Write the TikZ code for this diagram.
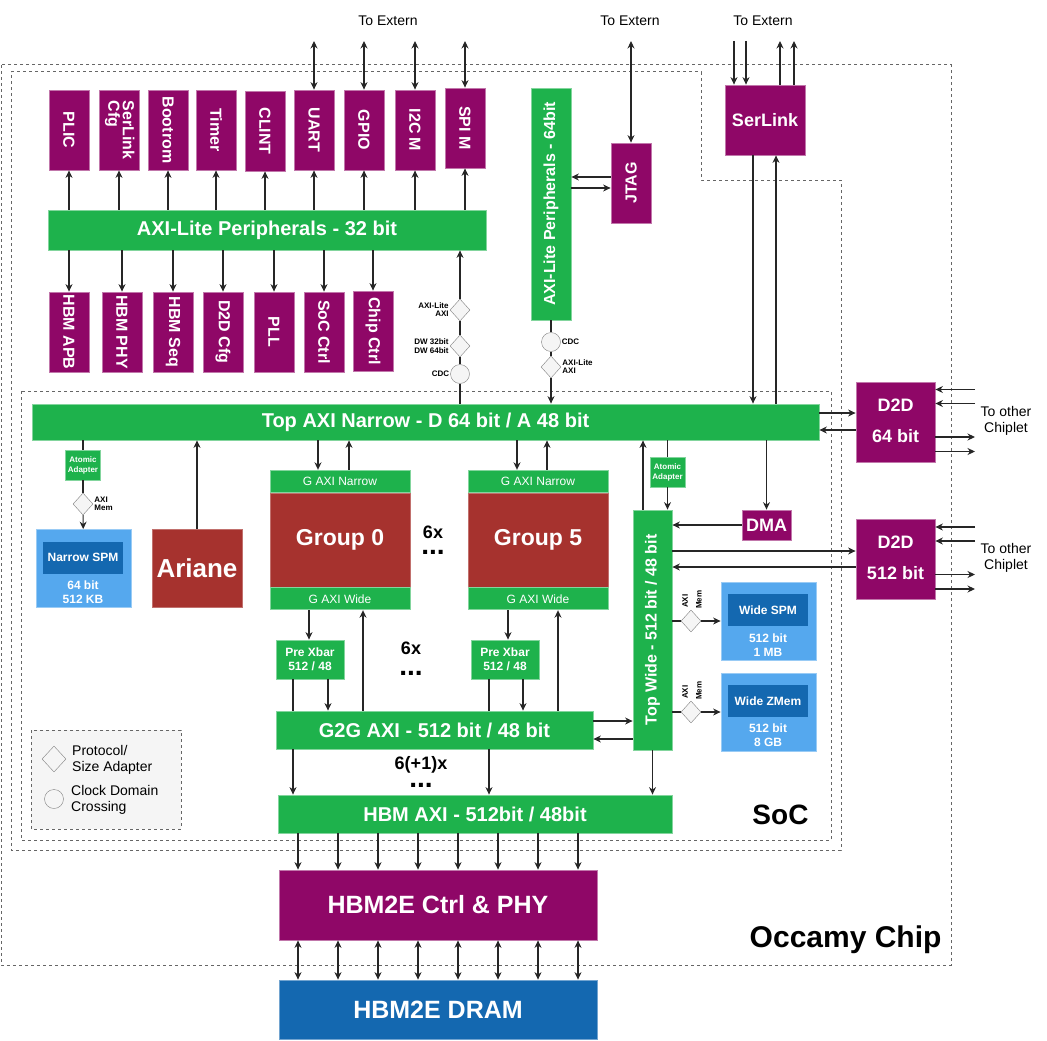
\documentclass[tikz,border=0pt]{standalone}
\usepackage{fontspec}
\setmainfont{Liberation Sans}
\usetikzlibrary{arrows.meta,positioning,shapes.geometric}

\definecolor{purp}{HTML}{8F0767}
\definecolor{grn}{HTML}{1EB24C}
\definecolor{brick}{HTML}{A6322E}
\definecolor{lblue}{HTML}{55A8EE}
\definecolor{dblue}{HTML}{1468B0}
\definecolor{adapt}{HTML}{F5F5F5}

\newcommand{\fsz}[1]{\fontsize{#1}{#1}\selectfont}
\newcommand{\rotup}[1]{\rotatebox{90}{#1}}
\newcommand{\rotdown}[1]{\rotatebox{-90}{#1}}

\begin{document}
\begin{tikzpicture}[x=1pt, y=-1pt,
    >={Stealth[length=7.5pt,width=7pt]},
    blk/.style={rectangle, inner sep=0pt, text=white, line width=0.8pt, font=\bfseries\fsz{16}},
    purpblk/.style={blk, fill=purp, draw=purp!55},
    grnblk/.style={blk, fill=grn, draw=grn!55},
    redblk/.style={blk, fill=brick, draw=brick!70},
    perip/.style={purpblk, minimum width=40pt, minimum height=80pt},
    bus/.style={grnblk, font=\bfseries\fsz{20}},
    gport/.style={grnblk, minimum width=140pt, minimum height=22pt, font=\fsz{12}},
    prexbar/.style={grnblk, minimum width=68pt, minimum height=39pt, align=center, font=\bfseries\fontsize{12}{14}\selectfont},
    atomic/.style={grnblk, minimum width=35pt, minimum height=30pt, align=center, font=\bfseries\fontsize{8}{10}\selectfont},
    d2d/.style={purpblk, minimum width=79pt, minimum height=80pt, align=center, font=\bfseries\fontsize{18}{31}\selectfont},
    mem/.style={blk, fill=lblue, draw=lblue!60, minimum width=95pt, minimum height=78pt},
    memin/.style={blk, fill=dblue, minimum width=80pt, minimum height=32pt, font=\bfseries\fsz{12}},
    memtxt/.style={text=white, align=center, inner sep=0pt, font=\bfseries\fontsize{12}{14}\selectfont},
    adapter/.style={diamond, draw=black!50, fill=adapt, inner sep=0pt, minimum width=20pt, minimum height=22pt},
    cdc/.style={circle, draw=black!50, fill=adapt, inner sep=0pt, minimum size=19pt},
    smlbl/.style={text=black, inner sep=1pt, font=\bfseries\fsz{8}},
    lbl/.style={align=center, inner sep=0pt, font=\fontsize{14}{16}\selectfont},
    cnt/.style={inner sep=0pt, font=\bfseries\fsz{18}},
    dotrow/.style={inner sep=0pt, font=\bfseries\fsz{28}},
    wire/.style={line width=1.1pt, draw=black!85},
    dashbox/.style={draw=black!60, line width=1pt, dash pattern=on 3pt off 3pt}]

\useasboundingbox (0,0) rectangle (1047,1041);

% chip / soc outlines
\draw[dashbox] (1,65) rectangle (951,965);
\draw[dashbox] (11,72) -- (701,72) -- (701,180) -- (841,180) -- (841,850) -- (11,850) -- cycle;
\draw[dashbox] (21,391) rectangle (831,840);

% peripherals
\node[perip] (plic) at (69,130) {\rotdown{PLIC}};
\node[perip] (slcfg) at (119,130) {\rotdown{\begin{tabular}{@{}l@{}}SerLink\\[-2pt]Cfg\end{tabular}}};
\node[perip] (bootrom) at (168,130) {\rotdown{Bootrom}};
\node[perip] (timer) at (216,130) {\rotdown{Timer}};
\node[perip] (clint) at (265,131) {\rotdown{CLINT}};
\node[perip] (uart) at (314,130) {\rotdown{UART}};
\node[perip] (gpio) at (364,130) {\rotdown{GPIO}};
\node[perip] (i2cm) at (415,130) {\rotdown{I2C M}};
\node[perip] (spim) at (465,128) {\rotdown{SPI M}};

\node[bus, minimum width=438pt, minimum height=40pt] (axi32) at (267,230) {AXI-Lite Peripherals - 32 bit};

\node[perip] (hbmapb) at (69,332) {\rotdown{HBM APB}};
\node[perip] (hbmphy) at (122,332) {\rotdown{HBM PHY}};
\node[perip] (hbmseq) at (173,332) {\rotdown{HBM Seq}};
\node[perip] (d2dcfg) at (223,332) {\rotdown{D2D Cfg}};
\node[perip] (pll) at (274,332) {\rotdown{PLL}};
\node[perip] (socctrl) at (324,332) {\rotdown{SoC Ctrl}};
\node[perip] (chipctrl) at (373,331) {\rotdown{Chip Ctrl}};

% adapters to the 32 bit bus
\node[adapter, label={[smlbl,anchor=south east]west:AXI-Lite}, label={[smlbl,anchor=north east]west:AXI}] (pa1) at (460,310) {};
\node[adapter, label={[smlbl,anchor=south east]west:DW 32bit}, label={[smlbl,anchor=north east]west:DW 64bit}] (pa2) at (460,346) {};
\node[cdc, label={[smlbl]left:CDC}] (pc1) at (460,374) {};

% 64 bit peripherals, jtag, serlink
\node[grnblk, minimum width=40pt, minimum height=232pt] (axi64) at (551,204) {\rotup{AXI-Lite Peripherals - 64bit}};
\node[cdc, label={[smlbl]right:CDC}] (pc2) at (551,342) {};
\node[adapter, label={[smlbl,anchor=south west]east:AXI-Lite}, label={[smlbl,anchor=north west]east:AXI}] (pa3) at (551,367) {};
\node[purpblk, minimum width=40pt, minimum height=80pt] (jtag) at (631,183) {\rotup{JTAG}};
\node[purpblk, minimum width=80pt, minimum height=70pt, font=\bfseries\fsz{18}] (serlink) at (765,120) {SerLink};

\node[lbl] (ext1) at (388,21) {To Extern};
\node[lbl] (ext2) at (630,21) {To Extern};
\node[lbl] (ext3) at (763,21) {To Extern};

% top narrow
\node[bus, minimum width=787pt, minimum height=36pt] (topn) at (425.5,422) {Top AXI Narrow - D 64 bit / A 48 bit};

\node[d2d] (d2d64) at (895.5,422) {D2D\\64 bit\rule[-3pt]{0pt}{1pt}};
\node[d2d] (d2d512) at (895.5,559.5) {D2D\\512 bit\rule[-3pt]{0pt}{1pt}};
\node[lbl] (oc1) at (1006,421) {To other\\Chiplet};
\node[lbl] (oc2) at (1006,558) {To other\\Chiplet};

% narrow side
\node[atomic] (atom1) at (83,465) {Atomic\\Adapter};
\node[adapter, label={[smlbl,anchor=south west]east:AXI}, label={[smlbl,anchor=north west]east:Mem}] (pa4) at (83,504) {};
\node[mem] (nspm) at (83.5,568.5) {};
\node[memin] (nspmin) at (83,557.5) {Narrow SPM};
\node[memtxt] (nspmtxt) at (83,592) {64 bit\\512 KB};
\node[redblk, minimum width=90pt, minimum height=78pt, font=\bfseries\fsz{26}] (ariane) at (197,568) {Ariane};

% groups
\node[redblk, minimum width=140pt, minimum height=94pt, font=\bfseries\fsz{23}] (g0) at (340,540) {Group 0};
\node[gport, above=0pt of g0] (g0n) {G AXI Narrow};
\node[gport, below=0pt of g0] (g0w) {G AXI Wide};
\node[redblk, minimum width=140pt, minimum height=94pt, font=\bfseries\fsz{23}] (g5) at (538,540) {Group 5};
\node[gport, above=0pt of g5] (g5n) {G AXI Narrow};
\node[gport, below=0pt of g5] (g5w) {G AXI Wide};
\node[cnt] (n6a) at (433,532) {6x};
\node[dotrow] (d6a) at (433,552) {...};

\node[prexbar] (px0) at (310,659.5) {Pre Xbar\\512 / 48};
\node[prexbar] (px5) at (505,659.5) {Pre Xbar\\512 / 48};
\node[cnt] (n6b) at (411,648) {6x};
\node[dotrow] (d6b) at (411,673) {...};

\node[bus, minimum width=317pt, minimum height=38pt] (g2g) at (434.5,730) {G2G AXI - 512 bit / 48 bit};
\node[cnt] (n7) at (421,765) {6(+1)x};
\node[dotrow] (d7) at (421,785) {...};
\node[bus, minimum width=394pt, minimum height=38pt] (hbmaxi) at (475,814) {HBM AXI - 512bit / 48bit};

% wide side
\node[grnblk, minimum width=39pt, minimum height=240pt] (topw) at (652.5,630) {\rotup{Top Wide - 512 bit / 48 bit}};
\node[atomic] (atom2) at (667.5,472) {Atomic\\Adapter};
\node[purpblk, minimum width=49pt, minimum height=30pt, font=\bfseries\fsz{18}] (dma) at (766.5,525) {DMA};

\node[mem] (wspm) at (768.5,621) {};
\node[memin] (wspmin) at (768,610) {Wide SPM};
\node[memtxt] (wspmtxt) at (768,645) {512 bit\\1 MB};
\node[adapter] (pa5) at (691,621) {};
\node[smlbl, rotate=90, anchor=west] (ax5) at (685,609) {AXI};
\node[smlbl, rotate=90, anchor=west] (mm5) at (699,610) {Mem};

\node[mem] (wzmem) at (768.5,712) {};
\node[memin] (wzmemin) at (768,701) {Wide ZMem};
\node[memtxt] (wzmemtxt) at (768,735) {512 bit\\8 GB};
\node[adapter] (pa6) at (691,712) {};
\node[smlbl, rotate=90, anchor=west] (ax6) at (685,700) {AXI};
\node[smlbl, rotate=90, anchor=west] (mm6) at (699,701) {Mem};

% hbm
\node[purpblk, minimum width=318pt, minimum height=70pt, font=\bfseries\fsz{25}] (ctrl) at (438,905) {HBM2E Ctrl \& PHY};
\node[blk, fill=dblue, draw=dblue!60, minimum width=318pt, minimum height=59pt, font=\bfseries\fsz{25}] (dram) at (438,1009.5) {HBM2E DRAM};

% legend
\draw[dashbox, fill=adapt] (31,730) rectangle (181,829);
\node[adapter, minimum width=24pt, minimum height=26pt] (lgad) at (54,759) {};
\node[lbl, anchor=west, align=left] (lgadt) at (72,760) {Protocol/\\Size Adapter};
\node[cdc] (lgcdc) at (54,799) {};
\node[lbl, anchor=west, align=left] (lgcdct) at (71,800) {Clock Domain\\Crossing};

\node[font=\bfseries\fsz{28}, anchor=east] (soc) at (812,815) {SoC};
\node[font=\bfseries\fsz{30}, anchor=east] (occ) at (945,940) {Occamy Chip};

% connections: peripherals
\coordinate (ext) at (0,41);
\coordinate (chip) at (975,0);
\foreach \p in {plic,slcfg,bootrom,timer,clint,uart,gpio,i2cm,spim}
  \draw[wire,->] (axi32.north -| \p) -- (\p);
\foreach \p in {hbmapb,hbmphy,hbmseq,d2dcfg,pll,socctrl,chipctrl}
  \draw[wire,->] (axi32.south -| \p) -- (\p);
\foreach \p in {uart,gpio,i2cm,spim,jtag}
  \draw[wire,<->] (\p |- ext) -- (\p);

\draw[wire] (topn.north -| pc1) -- (pc1);
\draw[wire] (pc1) -- (pa2);
\draw[wire] (pa2) -- (pa1);
\draw[wire,->] (pa1) -- (axi32.south -| pa1);

\draw[wire] (axi64) -- (pc2);
\draw[wire] (pc2) -- (pa3);
\draw[wire,->] (pa3) -- (topn.north -| pa3);

\draw[wire,->] ([yshift=6]jtag.west) -- ([yshift=6]jtag.west -| axi64.east);
\draw[wire,->] ([yshift=-5]axi64.east |- jtag.west) -- ([yshift=-5]jtag.west);

\draw[wire,->] ([xshift=-31]serlink.north |- ext) -- ([xshift=-31]serlink.north);
\draw[wire,->] ([xshift=-19]serlink.north |- ext) -- ([xshift=-19]serlink.north);
\draw[wire,->] ([xshift=15]serlink.north) -- ([xshift=15]serlink.north |- ext);
\draw[wire,->] ([xshift=29]serlink.north) -- ([xshift=29]serlink.north |- ext);
\draw[wire,->] ([xshift=-12]serlink.south) -- ([xshift=-12]serlink.south |- topn.north);
\draw[wire,->] ([xshift=11]serlink.south |- topn.north) -- ([xshift=11]serlink.south);

% d2d links
\draw[wire,->] ([yshift=9]topn.east) -- ([yshift=9]topn.east -| d2d64.west);
\draw[wire,->] ([yshift=-8]d2d64.west) -- ([yshift=-8]d2d64.west -| topn.east);
\draw[wire,->] ([yshift=8.5]topw.east |- d2d512.west) -- ([yshift=8.5]d2d512.west);
\draw[wire,->] ([yshift=-7.5]d2d512.west) -- ([yshift=-7.5]d2d512.west -| topw.east);
\foreach \d in {d2d64,d2d512} {
  \foreach \dy in {32.5,18.5}
    \draw[wire,->] ([yshift=\dy]\d.east -| chip) -- ([yshift=\dy]\d.east);
  \foreach \dy in {-15,-29.5}
    \draw[wire,->] ([yshift=\dy]\d.east) -- ([yshift=\dy]\d.east -| chip);
}

% narrow side
\draw[wire] (topn.south -| atom1) -- (atom1);
\draw[wire] (atom1) -- (pa4);
\draw[wire,->] (pa4) -- (nspm);
\draw[wire,->] (ariane) -- (topn.south -| ariane);

% groups
\draw[wire,->] ([xshift=-22]g0n.north |- topn.south) -- ([xshift=-22]g0n.north);
\draw[wire,->] ([xshift=9]g0n.north) -- ([xshift=9]g0n.north |- topn.south);
\draw[wire,->] ([xshift=-21]g5n.north |- topn.south) -- ([xshift=-21]g5n.north);
\draw[wire,->] ([xshift=9]g5n.north) -- ([xshift=9]g5n.north |- topn.south);

\draw[wire,->] ([xshift=-31]g0w.south) -- ([xshift=-31]g0w.south |- px0.north);
\draw[wire,->] ([xshift=23]g0w.south |- g2g.north) -- ([xshift=23]g0w.south);
\draw[wire,->] ([xshift=-30]g5w.south) -- ([xshift=-30]g5w.south |- px5.north);
\draw[wire,->] ([xshift=20]g5w.south |- g2g.north) -- ([xshift=20]g5w.south);

\draw[wire] ([xshift=-17]px0.south) -- ([xshift=-17]px0.south |- g2g.north);
\draw[wire,->] ([xshift=-17]px0.south |- g2g.south) -- ([xshift=-17]px0.south |- hbmaxi.north);
\draw[wire,->] ([xshift=18]px0.south) -- ([xshift=18]px0.south |- g2g.north);
\draw[wire] ([xshift=-16]px5.south) -- ([xshift=-16]px5.south |- g2g.north);
\draw[wire,->] ([xshift=-16]px5.south |- g2g.south) -- ([xshift=-16]px5.south |- hbmaxi.north);
\draw[wire,->] ([xshift=18]px5.south) -- ([xshift=18]px5.south |- g2g.north);

\draw[wire,->] ([yshift=9]g2g.east) -- ([yshift=9]g2g.east -| topw.west);
\draw[wire,->] ([yshift=-9]g2g.east -| topw.west) -- ([yshift=-9]g2g.east);

% wide side
\draw[wire,->] ([xshift=-9.5]topw.north) -- ([xshift=-9.5]topw.north |- topn.south);
\draw[wire] (topn.south -| atom2) -- (atom2);
\draw[wire,->] (atom2) -- (atom2 |- topw.north);
\draw[wire,->] (topn.south -| dma) -- (dma);
\draw[wire,->] (dma) -- (dma -| topw.east);
\draw[wire] (topw.east |- pa5) -- (pa5);
\draw[wire,->] (pa5) -- (wspm);
\draw[wire] (topw.east |- pa6) -- (pa6);
\draw[wire,->] (pa6) -- (wzmem);
\draw[wire,->] (topw.south) -- (topw.south |- hbmaxi.north);

% hbm
\foreach \dx in {-140,-100,...,140} {
  \draw[wire,->] ([xshift=\dx]ctrl.north |- hbmaxi.south) -- ([xshift=\dx]ctrl.north);
  \draw[wire,<->] ([xshift=\dx]ctrl.south) -- ([xshift=\dx]dram.north);
}
\end{tikzpicture}
\end{document}
